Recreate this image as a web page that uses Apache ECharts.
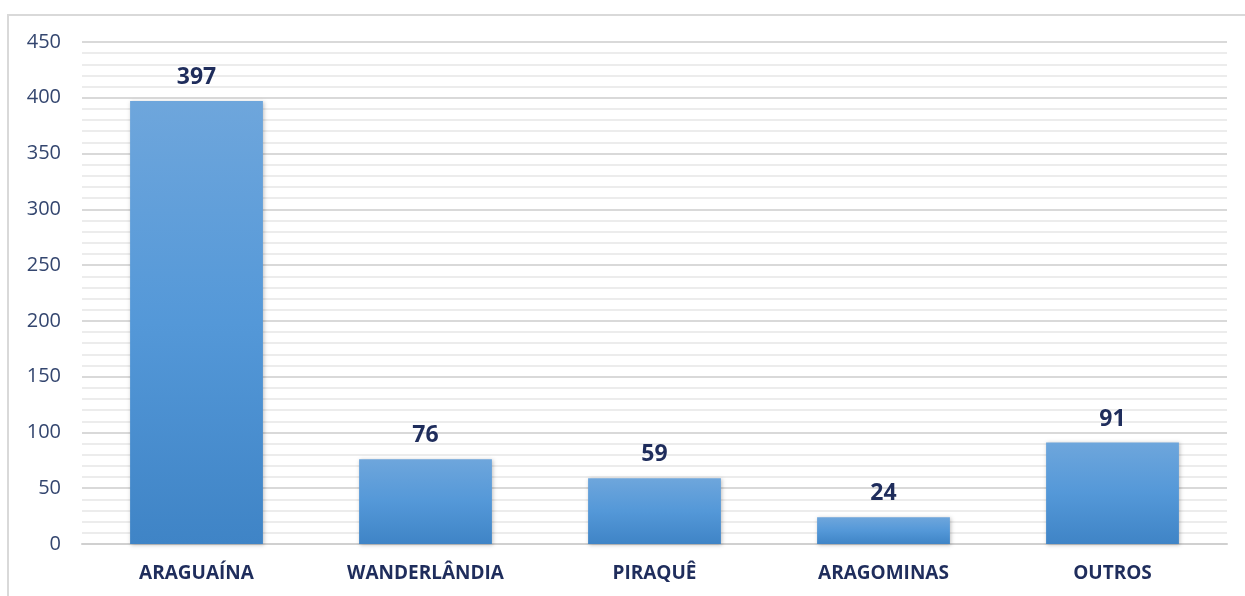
<!DOCTYPE html>
<html>
<head>
<meta charset="utf-8">
<script src="https://cdn.jsdelivr.net/npm/echarts@6/dist/echarts.min.js"></script>
<style>
  html, body { margin: 0; padding: 0; background: #ffffff; }
  #frame { position: absolute; left: 7px; top: 14px; width: 1250px; height: 600px;
           border-left: 2px solid #d9d9d9; border-top: 2px solid #d9d9d9; box-sizing: border-box; }
  #chart { position: absolute; left: 0; top: 0; width: 1245px; height: 596px; }
</style>
</head>
<body>
<div id="frame"></div>
<div id="chart"></div>
<script>
// Municípios e quantidades
const categories = ['ARAGUAÍNA', 'WANDERLÂNDIA', 'PIRAQUÊ', 'ARAGOMINAS', 'OUTROS'];
const values = [397, 76, 59, 24, 91];
const yTicks = [0, 50, 100, 150, 200, 250, 300, 350, 400, 450];

const navy = '#1f2d5c';
const chart = echarts.init(document.getElementById('chart'), null, { renderer: 'canvas' });

chart.setOption({
  animation: false,
  grid: { left: 82, right: 18, top: 42, bottom: 52, containLabel: false },
  xAxis: {
    type: 'category',
    data: categories,
    axisLine: { show: true, lineStyle: { color: '#d0d0d0', width: 2 } },
    axisTick: { show: false },
    axisLabel: {
      margin: 20,
      color: navy,
      fontFamily: 'Open Sans',
      fontWeight: 'bold',
      fontSize: 19
    }
  },
  yAxis: {
    type: 'value',
    min: yTicks[0],
    max: yTicks[yTicks.length - 1],
    interval: 50,
    axisLine: { show: false },
    axisTick: { show: false },
    axisLabel: {
      margin: 21,
      color: '#34466f',
      fontFamily: 'Open Sans',
      fontSize: 20
    },
    splitLine: { show: true, lineStyle: { color: '#d9d9d9', width: 2 } },
    minorTick: { show: false, splitNumber: 5 },
    minorSplitLine: { show: true, lineStyle: { color: '#ececec', width: 2 } }
  },
  series: [{
    type: 'bar',
    data: values,
    barCategoryGap: '42%',
    itemStyle: {
      color: new echarts.graphic.LinearGradient(0, 0, 0, 1, [
        { offset: 0, color: '#6ea6dc' },
        { offset: 0.5, color: '#5498d8' },
        { offset: 1, color: '#3f84c6' }
      ]),
      shadowColor: 'rgba(0,0,0,0.25)',
      shadowBlur: 4,
      shadowOffsetX: 1,
      shadowOffsetY: 1
    },
    label: {
      show: true,
      position: 'top',
      distance: 12,
      color: navy,
      fontFamily: 'Open Sans',
      fontWeight: 'bold',
      fontSize: 23
    }
  }]
});
</script>
</body>
</html>
